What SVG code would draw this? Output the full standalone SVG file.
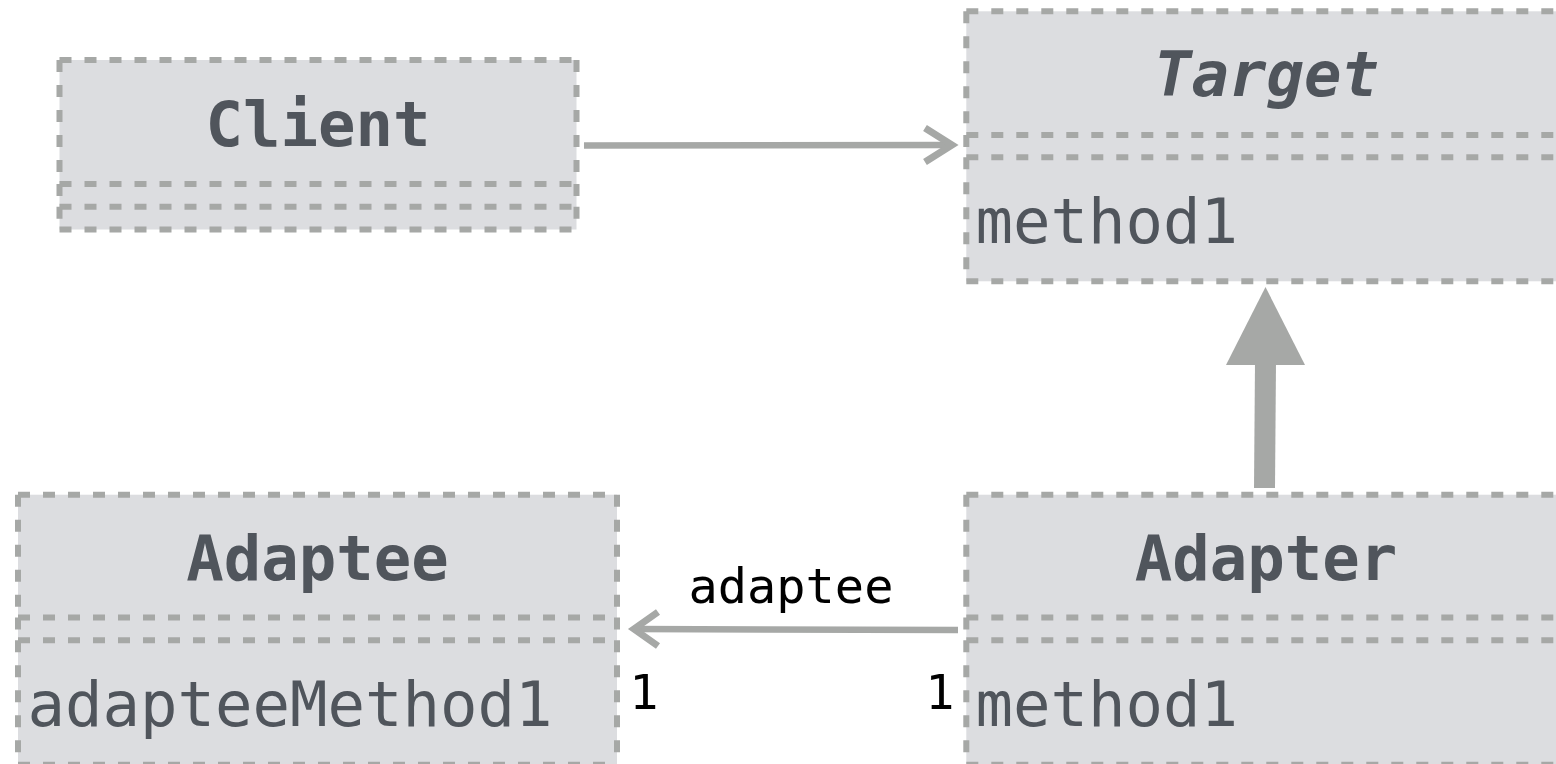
<svg xmlns="http://www.w3.org/2000/svg" width="1556" height="764" viewBox="0 0 1556 764">
  <style>
    .fill { fill: #dcdde0; }
    .dash { fill: none; stroke: #a6a8a6; stroke-width: 6; stroke-dasharray: 12 13; }
    .name { font-family: "DejaVu Sans Mono", "Liberation Mono", monospace; font-size: 62.3px; font-weight: bold; fill: #50555c; text-anchor: middle; }
    .abstract { font-style: italic; }
    .member { font-family: "DejaVu Sans Mono", "Liberation Mono", monospace; font-size: 62.3px; fill: #50555c; }
    .label { font-family: "DejaVu Sans Mono", "Liberation Mono", monospace; font-size: 48.6px; fill: #000000; text-anchor: middle; }
    .edge { fill: none; stroke: #a6a8a6; stroke-width: 6.5; }
    .head { fill: none; stroke: #a6a8a6; stroke-width: 7; stroke-linejoin: miter; }
  </style>

  <!-- class: Client (name / attributes / operations) -->
  <g id="client">
    <rect class="fill" x="59.5" y="60" width="517" height="169.5"/>
    <path class="dash" d="M59.5,60 H576.5 M59.5,184 H576.5 M59.5,206.7 H576.5 M59.5,229.5 H576.5
                          M59.5,60 V184 M59.5,184 V206.7 M59.5,206.7 V229.5
                          M576.5,60 V184 M576.5,184 V206.7 M576.5,206.7 V229.5"/>
    <text class="name" x="318" y="146">Client</text>
  </g>

  <!-- class: Target (abstract) -->
  <g id="target">
    <rect class="fill" x="966.3" y="11.3" width="600" height="270"/>
    <path class="dash" d="M966.3,11.3 H1566.3 M966.3,135 H1566.3 M966.3,157.2 H1566.3 M966.3,281.3 H1566.3
                          M966.3,11.3 V135 M966.3,135 V157.2 M966.3,157.2 V281.3"/>
    <text class="name abstract" x="1266.5" y="96">Target</text>
    <text class="member" x="975.5" y="243">method1</text>
  </g>

  <!-- class: Adaptee -->
  <g id="adaptee">
    <rect class="fill" x="18" y="494.7" width="599" height="270"/>
    <path class="dash" d="M18,494.7 H617 M18,617.5 H617 M18,640.3 H617 M18,764.7 H617
                          M18,494.7 V617.5 M18,617.5 V640.3 M18,640.3 V764.7
                          M617,494.7 V617.5 M617,617.5 V640.3 M617,640.3 V764.7"/>
    <text class="name" x="317.5" y="580">Adaptee</text>
    <text class="member" x="27.5" y="726">adapteeMethod1</text>
  </g>

  <!-- class: Adapter -->
  <g id="adapter">
    <rect class="fill" x="966.3" y="494.7" width="600" height="270"/>
    <path class="dash" d="M966.3,494.7 H1566.3 M966.3,617.5 H1566.3 M966.3,640.3 H1566.3 M966.3,764.7 H1566.3
                          M966.3,494.7 V617.5 M966.3,617.5 V640.3 M966.3,640.3 V764.7"/>
    <text class="name" x="1266" y="580">Adapter</text>
    <text class="member" x="975.5" y="726">method1</text>
  </g>

  <!-- relations -->
  <g id="connectors">
    <!-- Client uses Target -->
    <path class="edge" d="M584,145.5 L952,145"/>
    <path class="head" d="M925,128 L952,145 L925,162"/>

    <!-- Adapter realizes Target -->
    <path d="M1265.5,362 L1264.5,488" stroke="#a6a8a6" stroke-width="21" fill="none"/>
    <polygon points="1265.5,287 1305,365 1226,365" fill="#a6a8a6"/>

    <!-- Adapter holds an Adaptee -->
    <path class="edge" d="M958,630 L634,629"/>
    <path class="head" d="M658,612 L634,629 L658,646"/>
    <text class="label" x="791" y="603">adaptee</text>
    <text class="label" x="644" y="709">1</text>
    <text class="label" x="940" y="709">1</text>
  </g>
</svg>
